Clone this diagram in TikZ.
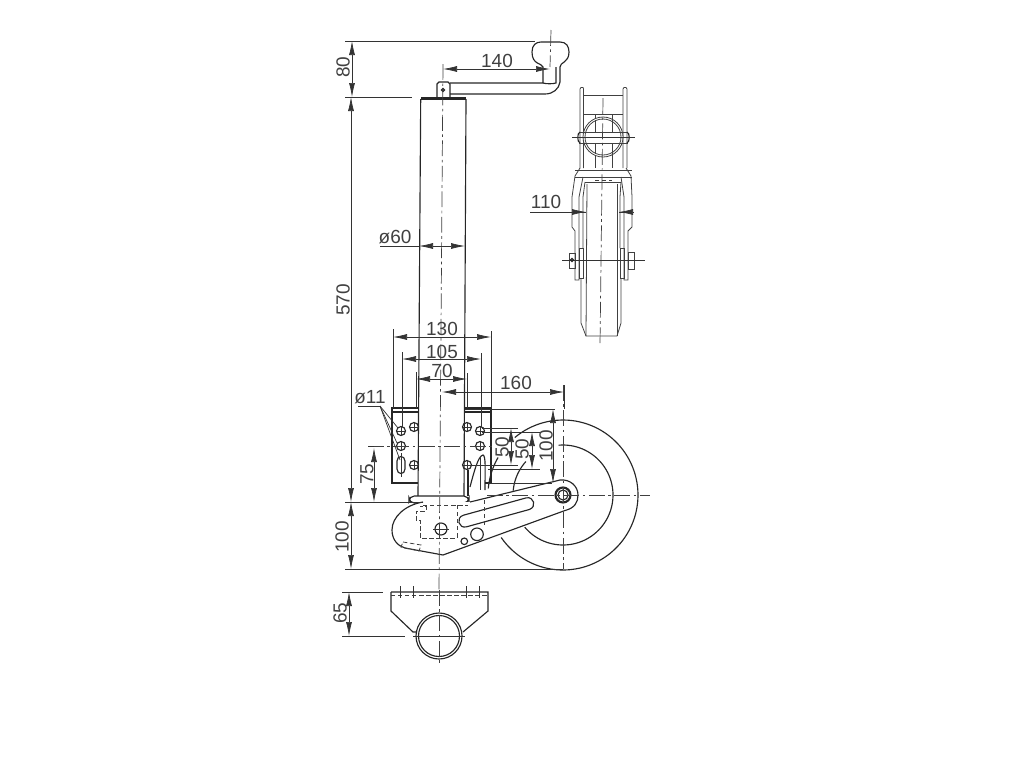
\documentclass[tikz,border=0pt]{standalone}
\usepackage{fontspec}
\setmainfont{Liberation Sans}
\usetikzlibrary{arrows.meta}
\tikzset{
	>={Latex[length=2.8mm,width=1.2mm]},
	part/.style={line width=0.65pt,draw=black!85},
	thinpart/.style={line width=0.45pt,draw=black!75},
	dim/.style={line width=0.4pt,draw=black!80},
	axis/.style={line width=0.4pt,draw=black!75,dash pattern=on 9pt off 2pt on 1.5pt off 2pt},
	hidden/.style={line width=0.45pt,draw=black!75,dash pattern=on 2.5pt off 1.5pt},
	dimtext/.style={inner sep=0pt,font=\fontsize{10.8}{12}\selectfont,text=black!75}
}
\begin{document}
\begin{tikzpicture}[x=0.02cm,y=-0.02cm]
	 \useasboundingbox (0,0) rectangle (1024,768);
	 %
	 %Crank
	 \draw[part] (450,83) -- (543,83) -- (543,67) .. controls (542,63) and (532,65) .. (532,52) .. controls (532,45) and (536,42) .. (541,42) -- (560,42) .. controls (566,42) and (569,46) .. (569,52) .. controls (569,63) and (560,62) .. (560,67) -- (560,82) .. controls (559,89) and (553,94) .. (545,94) -- (450,94);
	 \draw[part] (543,83) .. controls (546,84) and (553,84) .. (556,83) -- (556,67);
	 \draw[part] (437,98) -- (437,84) -- (439,82) -- (448,82) -- (450,84) -- (450,98);
	 \draw[part] (443,90) circle (1.5);
	 %
	 %Tube
	 \draw[part] (421,97.5) -- (466,97.5);
	 \draw[part] (420.7,99) -- (466,99);
	 \draw[part] (420.7,99) -- (418,496);
	 \draw[part] (466,99) -- (464,496);
	 \draw[part,fill=white,rounded corners=3pt] (409,496) rectangle (469,503);
	 %
	 %Plates
	 \draw[part] (418,408) -- (392,408) -- (392,483) -- (418,483);
	 \draw[part] (392,412) -- (418,412);
	 \draw[part] (464,408) -- (491,408) -- (491,483);
	 \draw[part] (464,412) -- (491,412);
	 \draw[part] (485,483) -- (491,483);
	 \draw[part] (468,470) -- (468,496);
	 %
	 %Holes
	 \foreach \holex/\holey in {401/431,401/446,414/427,414/465,467/427,467/465,480/431,480/446}{
		\draw[part] (\holex,\holey) circle (4.5);
		\draw[dim] (\holex-5,\holey) -- (\holex+5,\holey) (\holex,\holey-5) -- (\holex,\holey+5);
	 }
	 \draw[part] (397,461) .. controls (397,455) and (405,455) .. (405,461) -- (405,469) .. controls (405,475) and (397,475) .. (397,469) -- cycle;
	 \draw[dim] (401,453) -- (401,477);
	 %
	 %Latch
	 \draw[part] (470,487) .. controls (474,472) and (478,456) .. (483,455) .. controls (486,456) and (485,470) .. (485,490);
	 \draw[dim] (480,458) -- (480,490);
	 %
	 %Wheel
	 \draw[part] plot[domain=214.5:490,samples=90] ({563+75*cos(\x)},{495-75*sin(\x)});
	 \draw[part] plot[domain=150:175,samples=12] ({563+75*cos(\x)},{495-75*sin(\x)});
	 \draw[part] plot[domain=220:455,samples=70] ({563+50*cos(\x)},{495-50*sin(\x)});
	 \draw[part] plot[domain=138:175,samples=12] ({563+50*cos(\x)},{495-50*sin(\x)});
	 %
	 %Arm
	 \draw[part,fill=white] (423,502) .. controls (405,505) and (392,517) .. (392,530) .. controls (392,540) and (398,546) .. (405,548) -- (443,555) -- (565,510.5) .. controls (575,508) and (578,502) .. (578,495) .. controls (578,486) and (570,479) .. (560,480) -- (470,502);
	 \draw[part,fill=white] (463.4,515.2) -- (526.1,497.9) .. controls (534,496) and (537,507) .. (529.3,509.5) -- (466.6,526.8) .. controls (458.5,529) and (455.5,517.5) .. (463.4,515.2) -- cycle;
	 \draw[part,line width=1.2pt] (563,495) circle (7.5);
	 \draw[part] (563,495) circle (5);
	 \draw[part] (441,529) circle (6);
	 \draw[dim] (433,529) -- (449,529);
	 \draw[part] (477,534.3) circle (6.3);
	 \draw[part] (464.3,541.3) circle (3.3);
	 %
	 %Hidden edges in the arm
	 \draw[hidden] (457,505) -- (457,538) -- (420,538) -- (420,520) -- (416,520) -- (416,511) -- (426,511) -- (426,506) -- (420,506);
	 \draw[hidden] (423,505) -- (468,505);
	 \draw[hidden] (484,500) -- (484,527);
	 \draw[hidden] (403,542) -- (421,545) -- (419,551) -- (401,547) -- cycle;
	 %
	 %Center lines
	 \draw[axis] (443,64) -- (439,590);
	 \draw[axis] (368,446) -- (492,446);
	 \draw[axis] (487,495) -- (650,495);
	 \draw[axis] (563,385) -- (563,569);
	 \draw[axis] (551,30) -- (550,67);
	 %
	 %Overall heights
	 \draw[dim] (345,41) -- (535,41);
	 \draw[dim] (345,97) -- (412,97);
	 \draw[dim] (345,502) -- (423,502);
	 \draw[dim] (345,569) -- (563,569);
	 \draw[<->,dim] (352,41) -- (352,97);
	 \draw[<->,dim] (351,97) -- (351,502);
	 \draw[<->,dim] (351,502) -- (351,569);
	 \node[dimtext,rotate=90] (height80) at (343,67) {80};
	 \node[dimtext,rotate=90] (height570) at (343,300) {570};
	 \node[dimtext,rotate=90] (height100) at (342,537) {100};
	 %
	 %Crank radius
	 \draw[<->,dim] (443,69) -- (550,69);
	 \node[dimtext] (radius140) at (497,61) {140};
	 %
	 %Tube diameter
	 \draw[dim] (380,246) -- (419,246);
	 \draw[<->,dim] (419,246) -- (465,246);
	 \node[dimtext] (tube60) at (395,237) {ø60};
	 %
	 %Plate widths
	 \draw[dim] (393,329) -- (393,408);
	 \draw[dim] (491,331) -- (491,408);
	 \draw[<->,dim] (393,337) -- (491,337);
	 \node[dimtext] (width130) at (442,329) {130};
	 \draw[dim] (402,352) -- (402,427);
	 \draw[dim] (481,353) -- (481,427);
	 \draw[<->,dim] (402,359) -- (481,359);
	 \node[dimtext] (width105) at (442,352) {105};
	 \draw[dim] (416,372) -- (416,408);
	 \draw[dim] (467,373) -- (467,408);
	 \draw[<->,dim] (416,379) -- (467,379);
	 \node[dimtext] (width70) at (442,371) {70};
	 \draw[dim] (564,385) -- (564,409);
	 \draw[<->,dim] (442,392) -- (564,392);
	 \node[dimtext] (width160) at (516,383) {160};
	 %
	 %Hole callout
	 \node[dimtext] (hole11) at (370,397) {ø11};
	 \draw[dim] (358,406) -- (380,406);
	 \draw[dim] (380,406) -- (398,428);
	 \draw[dim] (380,406) -- (400,460);
	 \draw[dim] (380,406) -- (397,443);
	 %
	 %Hole spacing
	 \draw[dim] (368,446) -- (374,446);
	 \draw[<->,dim] (374,448) -- (374,502);
	 \node[dimtext,rotate=90] (spacing75) at (367,474) {75};
	 \draw[dim] (465,409) -- (555,409);
	 \draw[dim] (482,428) -- (518,428);
	 \draw[dim] (482,432) -- (540,432);
	 \draw[dim] (470,465) -- (518,465);
	 \draw[dim] (488,469) -- (540,469);
	 \draw[dim] (488,483) -- (552,483);
	 \draw[<->,dim] (511,428) -- (511,465);
	 \draw[<->,dim] (532,432) -- (532,469);
	 \draw[<->,dim] (553,409) -- (553,483);
	 \node[dimtext,rotate=90] (spacing50a) at (502,447) {50};
	 \node[dimtext,rotate=90] (spacing50b) at (522,449) {50};
	 \node[dimtext,rotate=90] (spacing100) at (546,446) {100};
	 %
	 %Bottom view
	 \draw[part] (391,592) -- (488,592) -- (488,611) -- (463,632);
	 \draw[part] (391,592) -- (391,611) -- (413,632) -- (417,632);
	 \draw[hidden] (391,595) -- (488,595);
	 \draw[part] (439,636) circle (23);
	 \draw[part] (439,636) circle (20.5);
	 \foreach \tickx in {400,413,466,479}{
		\draw[dim] (\tickx,586) -- (\tickx,598);
	 }
	 \draw[axis] (439,590) -- (439,665);
	 \draw[dim] (413,636) -- (465,636);
	 \draw[dim] (342,592) -- (383,592);
	 \draw[dim] (342,636) -- (405,636);
	 \draw[<->,dim] (349,592) -- (349,636);
	 \node[dimtext,rotate=90] (height65) at (340,613) {65};
	 %
	 %Front view: head
	 \draw[thinpart] (580,168) -- (580,89) -- (581,87.5) -- (583,87.5) -- (583.5,89) -- (583.5,168);
	 \draw[thinpart] (623,168) -- (623,89) -- (624,87.5) -- (626,87.5) -- (627,89) -- (627,168);
	 \draw[thinpart] (583.5,95) -- (623,95);
	 \draw[thinpart] (583.5,114) -- (623,114);
	 \draw[thinpart] (595,114) -- (595,168);
	 \draw[thinpart] (612,114) -- (612,168);
	 \draw[thinpart,fill=white] (603,137) circle (20);
	 \draw[thinpart] (603,137) circle (18);
	 \draw[thinpart] (579,132) -- (628,132);
	 \draw[thinpart] (579,143) -- (628,143);
	 \draw[thinpart] (595,120) -- (595,132) (595,143) -- (595,154);
	 \draw[thinpart] (612,120) -- (612,132) (612,143) -- (612,154);
	 \draw[part] (580,132) .. controls (577,133) and (577,142) .. (580,143);
	 \draw[part] (627,132) .. controls (630,133) and (630,142) .. (627,143);
	 \draw[dim] (572,137) -- (635,137);
	 \draw[axis] (603,98) -- (600,345);
	 %
	 %Front view: fork
	 \draw[thinpart] (575,170) -- (632,170);
	 \draw[thinpart] (575,177) -- (632,177);
	 \draw[thinpart] (585,182) -- (621,182);
	 \draw[hidden] (595,180) -- (612,180);
	 \draw[thinpart] (580,168) -- (575,176) -- (572,197) -- (572,227) -- (575,231) -- (575,280) -- (579,280) -- (579,197) -- (583,177);
	 \draw[thinpart] (626,168) -- (631,176) -- (632,197) -- (632,227) -- (628,231) -- (628,280) -- (624,280) -- (624,197) -- (621,177);
	 \draw[thinpart] (585,182) -- (583,197) -- (583,248);
	 \draw[thinpart] (621,182) -- (620,197) -- (620,248);
	 %
	 %Front view: wheel
	 \draw[thinpart] (581,278) -- (581,323) -- (586,336) -- (617,336) -- (621,323) -- (621,278);
	 \draw[thinpart] (587,184) -- (586,336);
	 \draw[thinpart] (617,184) -- (617,336);
	 \draw[thinpart] (579,248) rectangle (583,278);
	 \draw[thinpart] (620,248) rectangle (624,278);
	 \draw[thinpart] (569,253) rectangle (575,268);
	 \draw[thinpart] (628,252) rectangle (634,269);
	 \draw[dim] (562,260) -- (645,260);
	 \draw[part] (572,260) circle (1.5);
	 %
	 %Front view: width
	 \draw[dim] (530,212) -- (586,212);
	 \draw[dim] (619,212) -- (632,212);
	 \draw[<-,dim] (586,212) -- (572,212);
	 \draw[<-,dim] (619,212) -- (633,212);
	 \node[dimtext] (width110) at (546,202) {110};
\end{tikzpicture}
\end{document}
